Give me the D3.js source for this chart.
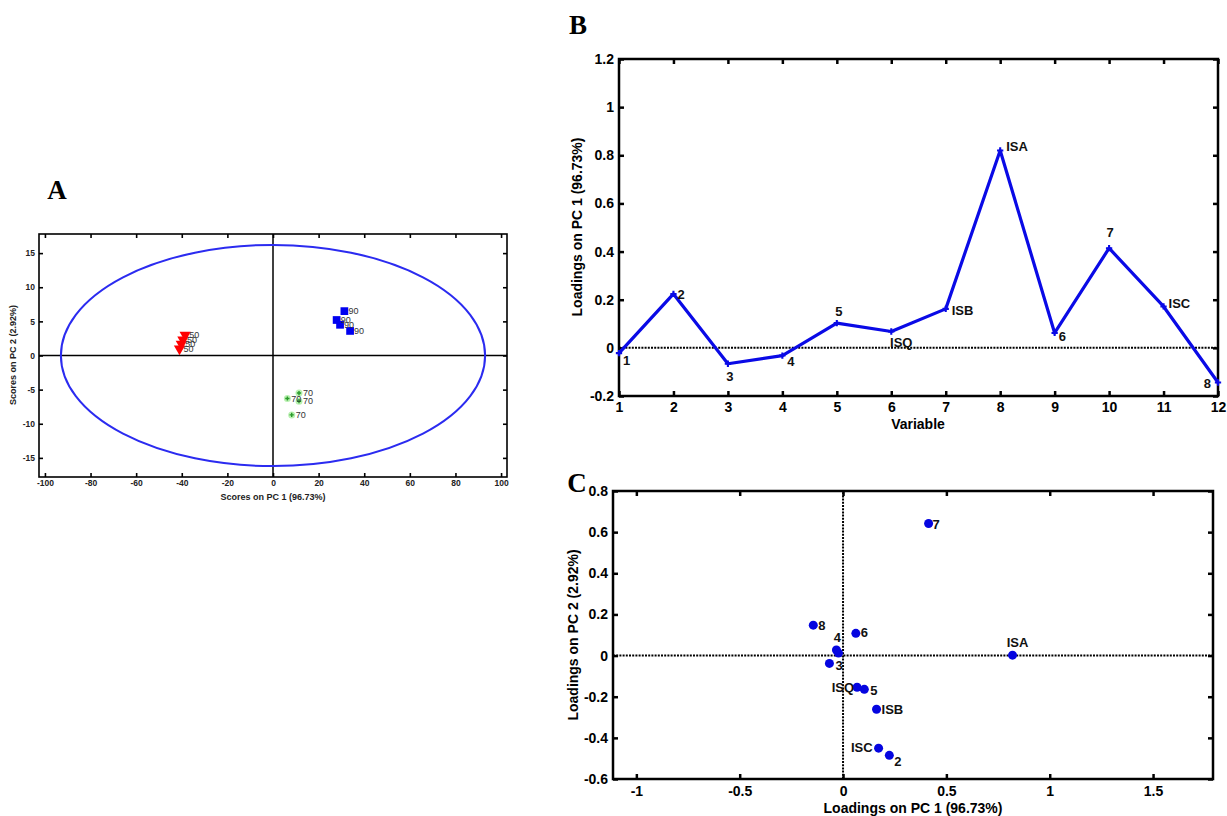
<!DOCTYPE html>
<html>
  <head>
    <title>PCA scores and loadings</title>
    <script src="https://d3js.org/d3.v7.min.js"></script>
    <style>
      body { margin: 0; background: #fff; }
      text { font-family: "Liberation Sans", Arial, sans-serif; }
      .panel-letter { font-family: "Liberation Serif", "DejaVu Serif", serif; font-weight: bold; font-size: 27px; }
      .bold { font-weight: bold; }
    </style>
  </head>
  <body>
    <div id="chart"></div>
    <script>
      // ---- Panel A: PCA scores ----
      const redPC1 = [-38.5, -39.5, -40.2, -41.0];
      const redPC2 = [3.0, 2.3, 1.7, 1.0];
      const bluePC1 = [31.3, 27.9, 29.4, 33.8];
      const bluePC2 = [6.5, 5.2, 4.5, 3.6];
      const greenPC1 = [6.3, 11.4, 11.4, 8.2];
      const greenPC2 = [-6.3, -5.5, -6.7, -8.7];
      const groupLabels = ["50", "90", "70"];
      const ellipseRadii = [93, 16.2];
      const scoreXTicks = [-100, -80, -60, -40, -20, 0, 20, 40, 60, 80, 100];
      const scoreYTicks = [-15, -10, -5, 0, 5, 10, 15];

      // ---- Panel B/C: loadings ----
      const variables = [1, 2, 3, 4, 5, 6, 7, 8, 9, 10, 11, 12];
      const varLabels = ["1", "2", "3", "4", "5", "ISQ", "ISB", "ISA", "6", "7", "ISC", "8"];
      const loadPC1 = [-0.022, 0.224, -0.066, -0.032, 0.103, 0.068, 0.162, 0.820, 0.062, 0.414, 0.172, -0.144];
      const loadPC2 = [0.012, -0.485, -0.038, 0.027, -0.164, -0.154, -0.261, 0.002, 0.108, 0.642, -0.450, 0.148];
      const bYTicks = [-0.2, 0, 0.2, 0.4, 0.6, 0.8, 1, 1.2];
      const cXTicks = [-1, -0.5, 0, 0.5, 1, 1.5];
      const cYTicks = [-0.6, -0.4, -0.2, 0, 0.2, 0.4, 0.6, 0.8];

      const svg = d3.select("#chart").append("svg")
        .attr("width", 1227).attr("height", 816);

      // draws a boxed frame with inward ticks on all four sides
      function frame(g, x, y, xTicks, yTicks, o) {
        const [x0, x1] = x.range();
        const [y0, y1] = y.range(); // y0 bottom, y1 top
        const fmt = d => String(d);
        g.append("g").attr("transform", `translate(0,${y0})`)
          .call(d3.axisBottom(x).tickValues(xTicks).tickFormat(fmt).tickSizeInner(-o.tick).tickSizeOuter(0).tickPadding(o.padX));
        g.append("g").attr("transform", `translate(0,${y1})`)
          .call(d3.axisTop(x).tickValues(xTicks).tickFormat("").tickSizeInner(-o.tick).tickSizeOuter(0));
        g.append("g").attr("transform", `translate(${x0},0)`)
          .call(d3.axisLeft(y).tickValues(yTicks).tickFormat(fmt).tickSizeInner(-o.tick).tickSizeOuter(0).tickPadding(o.padY));
        g.append("g").attr("transform", `translate(${x1},0)`)
          .call(d3.axisRight(y).tickValues(yTicks).tickFormat("").tickSizeInner(-o.tick).tickSizeOuter(0));
        g.selectAll(".domain").remove();
        g.selectAll(".tick line").attr("stroke", "#000").attr("stroke-width", o.sw);
        g.selectAll(".tick text").attr("fill", o.color || "#000")
          .style("font-size", o.font + "px").style("font-weight", "bold").style("font-family", "Liberation Sans, Arial, sans-serif");
        g.append("rect").attr("x", x0).attr("y", y1)
          .attr("width", x1 - x0).attr("height", y0 - y1)
          .attr("fill", "none").attr("stroke", "#000").attr("stroke-width", o.sw);
      }

      // ================= Panel A =================
      const gA = svg.append("g");
      const xA = d3.scaleLinear().domain([-102.6, 102.6]).range([39, 507]);
      const yA = d3.scaleLinear().domain([-17.8, 17.8]).range([477, 234]);

      frame(gA, xA, yA, scoreXTicks, scoreYTicks, { tick: 4, sw: 1.6, font: 8.5, padX: 3, padY: 4, color: "#222" });

      // zero lines
      gA.append("line").attr("x1", xA(0)).attr("x2", xA(0)).attr("y1", yA.range()[0]).attr("y2", yA.range()[1])
        .attr("stroke", "#000").attr("stroke-width", 1.5);
      gA.append("line").attr("x1", xA.range()[0]).attr("x2", xA.range()[1]).attr("y1", yA(0)).attr("y2", yA(0))
        .attr("stroke", "#000").attr("stroke-width", 1.5);

      // confidence ellipse
      gA.append("ellipse")
        .attr("cx", xA(0)).attr("cy", yA(0))
        .attr("rx", xA(ellipseRadii[0]) - xA(0))
        .attr("ry", yA(0) - yA(ellipseRadii[1]))
        .attr("fill", "none").attr("stroke", "#2b2bf0").attr("stroke-width", 2);

      const red = redPC1.map((v, i) => ({ x: v, y: redPC2[i] }));
      const blue = bluePC1.map((v, i) => ({ x: v, y: bluePC2[i] }));
      const green = greenPC1.map((v, i) => ({ x: v, y: greenPC2[i] }));

      // red down triangles
      gA.selectAll(".tri").data(red).enter().append("path")
        .attr("transform", d => `translate(${xA(d.x)},${yA(d.y)}) rotate(180)`)
        .attr("d", d3.symbol(d3.symbolTriangle, 55))
        .attr("fill", "#f00");
      // blue squares
      gA.selectAll(".sq").data(blue).enter().append("path")
        .attr("transform", d => `translate(${xA(d.x)},${yA(d.y)})`)
        .attr("d", d3.symbol(d3.symbolSquare, 60))
        .attr("fill", "#0000f0");
      // green stars
      gA.selectAll(".halo").data(green).enter().append("circle")
        .attr("cx", d => xA(d.x)).attr("cy", d => yA(d.y)).attr("r", 3.5)
        .attr("fill", "#b8f0b0");
      gA.selectAll(".star").data(green).enter().append("path")
        .attr("transform", d => `translate(${xA(d.x)},${yA(d.y)})`)
        .attr("d", d3.symbol(d3.symbolCross, 10))
        .attr("fill", "#2a9a2a");

      const scoreGroups = [red, blue, green];
      scoreGroups.forEach((grp, gi) => {
        gA.selectAll(".lab" + gi).data(grp).enter().append("text")
          .attr("x", d => xA(d.x) + 4).attr("y", d => yA(d.y) + 3)
          .attr("fill", "#333").style("font-size", "9px")
          .text(groupLabels[gi]);
      });

      gA.append("text").attr("x", 273).attr("y", 500).attr("text-anchor", "middle")
        .attr("class", "bold").style("font-size", "9px").attr("fill", "#222")
        .text("Scores on PC 1 (96.73%)");
      gA.append("text").attr("transform", "translate(16,355) rotate(-90)").attr("text-anchor", "middle")
        .attr("class", "bold").style("font-size", "9px").attr("fill", "#222")
        .text("Scores on PC 2 (2.92%)");
      gA.append("text").attr("class", "panel-letter").attr("x", 57).attr("y", 199)
        .attr("text-anchor", "middle").text("A");

      // ================= Panel B =================
      const gB = svg.append("g");
      const xB = d3.scaleLinear().domain([1, 12]).range([619, 1218]);
      const yB = d3.scaleLinear().domain([-0.2, 1.2]).range([396, 59]);

      frame(gB, xB, yB, variables, bYTicks, { tick: 5, sw: 2.5, font: 14, padX: 6, padY: 5 });

      gB.append("line").attr("x1", xB(1)).attr("x2", xB(12)).attr("y1", yB(0)).attr("y2", yB(0))
        .attr("stroke", "#000").attr("stroke-width", 2).attr("stroke-dasharray", "2,1.2");

      const loads = variables.map((v, i) => ({ v, pc1: loadPC1[i], pc2: loadPC2[i], label: varLabels[i] }));

      gB.append("path").datum(loads)
        .attr("d", d3.line().x(d => xB(d.v)).y(d => yB(d.pc1)))
        .attr("fill", "none").attr("stroke", "#0a0ae6").attr("stroke-width", 3.2)
        .attr("stroke-linejoin", "round");
      gB.selectAll(".mk").data(loads).enter().append("path")
        .attr("transform", d => `translate(${xB(d.v)},${yB(d.pc1)})`)
        .attr("d", d3.symbol(d3.symbolCross, 22))
        .attr("fill", "#0a0ae6");

      // label offsets [dx, dy, anchor]
      const bOff = [[4, 12, "start"], [4, 5, "start"], [2, 17, "middle"], [5, 10, "start"],
        [2, -7, "middle"], [10, 16, "middle"], [6, 6, "start"], [6, 1, "start"],
        [4, 8, "start"], [1, -11, "middle"], [5, 2, "start"], [-7, 5, "end"]];
      gB.selectAll(".bl").data(loads).enter().append("text")
        .attr("x", (d, i) => xB(d.v) + bOff[i][0]).attr("y", (d, i) => yB(d.pc1) + bOff[i][1])
        .attr("text-anchor", (d, i) => bOff[i][2])
        .attr("class", "bold").style("font-size", "13px").attr("fill", "#111")
        .text(d => d.label);

      gB.append("text").attr("x", 918).attr("y", 429).attr("text-anchor", "middle")
        .attr("class", "bold").style("font-size", "14px").text("Variable");
      gB.append("text").attr("transform", "translate(582,227) rotate(-90)").attr("text-anchor", "middle")
        .attr("class", "bold").style("font-size", "14px").text("Loadings on PC 1 (96.73%)");
      gB.append("text").attr("class", "panel-letter").attr("x", 578).attr("y", 34)
        .attr("text-anchor", "middle").text("B");

      // ================= Panel C =================
      const gC = svg.append("g");
      const xC = d3.scaleLinear().domain([-1.113, 1.79]).range([613, 1213]);
      const yC = d3.scaleLinear().domain([-0.6, 0.8]).range([779, 491]);

      frame(gC, xC, yC, cXTicks, cYTicks, { tick: 5, sw: 2.5, font: 14, padX: 7, padY: 5 });

      gC.append("line").attr("x1", xC.range()[0]).attr("x2", xC.range()[1]).attr("y1", yC(0)).attr("y2", yC(0))
        .attr("stroke", "#000").attr("stroke-width", 2).attr("stroke-dasharray", "2,1.2");
      gC.append("line").attr("x1", xC(0)).attr("x2", xC(0)).attr("y1", yC.range()[0]).attr("y2", yC.range()[1])
        .attr("stroke", "#000").attr("stroke-width", 2).attr("stroke-dasharray", "2,1.2");

      gC.selectAll(".dot").data(loads).enter().append("circle")
        .attr("cx", d => xC(d.pc1)).attr("cy", d => yC(d.pc2)).attr("r", 4.5)
        .attr("fill", "#0505e0");

      // label offsets [dx, dy, anchor]; variable 1 is hidden behind 4
      const cOff = [null, [5, 11, "start"], [6, 7, "start"], [1, -8, "middle"],
        [6, 6, "start"], [-3, 5, "end"], [5, 5, "start"], [5, -8, "middle"],
        [5, 4, "start"], [4, 5, "start"], [-6, 4, "end"], [5, 5, "start"]];
      gC.selectAll(".cl").data(loads.filter((d, i) => cOff[i])).enter().append("text")
        .attr("x", d => xC(d.pc1) + cOff[d.v - 1][0]).attr("y", d => yC(d.pc2) + cOff[d.v - 1][1])
        .attr("text-anchor", d => cOff[d.v - 1][2])
        .attr("class", "bold").style("font-size", "13px").attr("fill", "#111")
        .text(d => d.label);

      gC.append("text").attr("x", 913).attr("y", 813).attr("text-anchor", "middle")
        .attr("class", "bold").style("font-size", "14px").text("Loadings on PC 1 (96.73%)");
      gC.append("text").attr("transform", "translate(578,635) rotate(-90)").attr("text-anchor", "middle")
        .attr("class", "bold").style("font-size", "14px").text("Loadings on PC 2 (2.92%)");
      gC.append("text").attr("class", "panel-letter").attr("x", 577).attr("y", 492)
        .attr("text-anchor", "middle").text("C");
    </script>
  </body>
</html>
